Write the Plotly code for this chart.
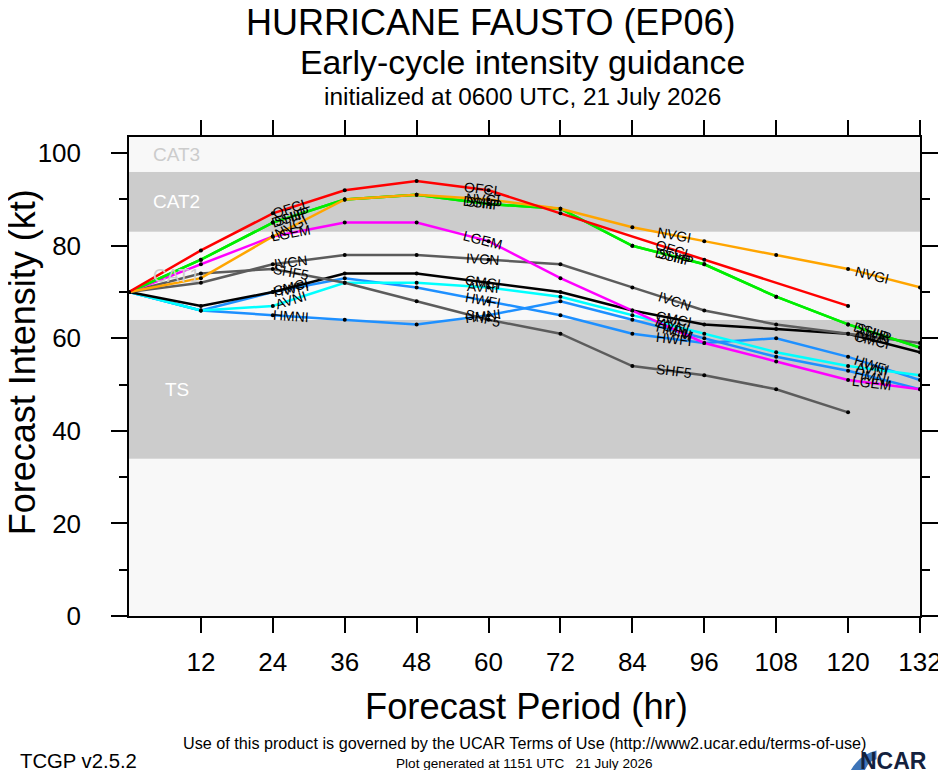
import math
import plotly.graph_objects as go

# forecast hours and model guidance (kt)
hours = [0, 12, 24, 36, 48, 60, 72, 84, 96, 108, 120, 132]
ofcl_hours = [0, 12, 24, 36, 48, 60, 72, 96, 120]
shf5_hours = [0, 12, 24, 36, 48, 60, 72, 84, 96, 108, 120]

ofcl = [70, 79, 87, 92, 94, 92, 87, 77, 67]
nvgi = [70, 73, 82, 90, 91, 90, 88, 84, 81, 78, 75, 71]
ship = [70, 77, 85, 90, 91, 89, 88, 80, 76, 69, 63, 58]
dshp = [70, 77, 85, 90, 91, 89, 88, 80, 76, 69, 63, 58]
lgem = [70, 76, 82, 85, 85, 81, 73, 66, 59, 55, 51, 49]
ivcn = [70, 72, 76, 78, 78, 77, 76, 71, 66, 63, 61, 59]
shf5 = [70, 74, 75, 72, 68, 64, 61, 54, 52, 49, 44]
cmci = [70, 67, 70, 74, 74, 72, 70, 66, 63, 62, 61, 57]
avni = [70, 66, 67, 72, 72, 71, 69, 65, 61, 57, 54, 52]
hwfi = [70, 66, 70, 73, 71, 68, 65, 61, 59, 60, 56, 51]
hmni = [70, 66, 65, 64, 63, 65, 68, 64, 60, 56, 53, 49]

# intensity category bands (kt)
band_edges = [0, 34, 64, 83, 96, 113]
band_names = ["", "TS", "CAT1", "CAT2", "CAT3"]

x_ticks = [12, 24, 36, 48, 60, 72, 84, 96, 108, 120, 132]
label_hours = [27, 59, 91, 124]

W, H = 946, 762
M = dict(l=120.5, r=23.3, t=129, b=154)
X_MAX, Y_MAX = 132, 103.5
FONT = "Liberation Sans, Arial, Helvetica, sans-serif"

# pixel scales, used only to tilt the line labels along their segments
px_hr = (W - M["l"] - M["r"]) / X_MAX
px_kt = (H - M["t"] - M["b"]) / Y_MAX

series = [
    ("HMNI", hours, hmni, "#1e90ff"),
    ("HWFI", hours, hwfi, "#1e90ff"),
    ("AVNI", hours, avni, "#00ffff"),
    ("CMCI", hours, cmci, "#000000"),
    ("SHF5", shf5_hours, shf5, "#5c5c5c"),
    ("IVCN", hours, ivcn, "#5c5c5c"),
    ("LGEM", hours, lgem, "#ff00ff"),
    ("DSHP", hours, dshp, "#00ee00"),
    ("SHIP", hours, ship, "#00ee00"),
    ("NVGI", hours, nvgi, "#ffa500"),
    ("OFCL", ofcl_hours, ofcl, "#ff0000"),
]

fig = go.Figure()

# background bands
for i, name in enumerate(band_names):
    lo, hi = band_edges[i], band_edges[i + 1]
    dark = i % 2 == 1
    fig.add_shape(type="rect", xref="x domain", yref="y", x0=0, x1=1, y0=lo, y1=hi,
                  fillcolor="#cccccc" if dark else "#f8f8f8", line_width=0, layer="below")
    if name:
        fig.add_annotation(x=8, y=(lo + min(hi, Y_MAX)) / 2, text=name, showarrow=False,
                           font=dict(family=FONT, size=19, color="#ffffff" if dark else "#cccccc"))

for name, xs, ys, color in series:
    fig.add_trace(go.Scatter(x=xs, y=ys, mode="lines+markers", name=name,
                             line=dict(color=color, width=2.5),
                             marker=dict(color="black", size=4), showlegend=False))
    # labels along the line
    for h in label_hours:
        if h >= xs[-1]:
            continue
        j = max(k for k in range(len(xs)) if xs[k] <= h)
        slope = (ys[j + 1] - ys[j]) / (xs[j + 1] - xs[j])
        yv = ys[j] + slope * (h - xs[j])
        ang = -math.degrees(math.atan2(slope * px_kt, px_hr))
        fig.add_annotation(x=h, y=yv, text=name, showarrow=False, textangle=ang,
                           font=dict(family=FONT, size=14, color="black"))


def page_text(txt, x, y, size, angle=0, xanchor="center", color="black", family=FONT):
    fig.add_annotation(xref="paper", yref="paper", x=x, y=y, text=txt, showarrow=False,
                       xanchor=xanchor, yanchor="middle", textangle=angle,
                       font=dict(family=family, size=size, color=color))


page_text("HURRICANE FAUSTO (EP06)", 0.4576, 1.238, 36)
page_text("Early-cycle intensity guidance", 0.498, 1.157, 33.8)
page_text("initialized at 0600 UTC, 21 July 2026", 0.497, 1.084, 24.4)

page_text("Forecast Period (hr)", 0.503, -0.188, 36.3)
page_text("Forecast Intensity (kt)", -0.135, 0.530, 36, angle=-90)

page_text("Use of this product is governed by the UCAR Terms of Use (http://www2.ucar.edu/terms-of-use)",
          0.4995, -0.265, 16.2)
page_text("TCGP v2.5.2", -0.140, -0.302, 20.3, xanchor="left")
page_text("Plot generated at 1151 UTC   21 July 2026", 0.4995, -0.308, 13.6)
page_text("<b>NCAR</b>", 1.012, -0.302, 23, xanchor="right", color="#14213d")
fig.add_shape(type="path", xref="paper", yref="paper", line_width=0, fillcolor="#3d74b8",
              path="M 0.908,-0.337 Q 0.920,-0.290 0.945,-0.281 L 0.945,-0.299 Q 0.931,-0.304 0.928,-0.337 Z")

fig.update_layout(
    width=W, height=H, margin=M,
    paper_bgcolor="white", plot_bgcolor="white",
    xaxis=dict(range=[0, X_MAX], tickvals=x_ticks, showgrid=False, zeroline=False,
               showline=True, linecolor="black", linewidth=1.5, mirror="ticks",
               ticks="outside", ticklen=15, tickwidth=1.5, tickcolor="black",
               ticklabelstandoff=7,
               tickfont=dict(family=FONT, size=26, color="black")),
    yaxis=dict(range=[0, Y_MAX], tickvals=[0, 20, 40, 60, 80, 100], showgrid=False,
               zeroline=False, showline=True, linecolor="black", linewidth=1.5,
               mirror="ticks", ticks="outside", ticklen=16, tickwidth=1.5, tickcolor="black",
               ticklabelstandoff=25,
               minor=dict(tickvals=[10, 30, 50, 70, 90], ticks="outside", ticklen=8,
                          tickwidth=1.5, tickcolor="black", showgrid=False),
               tickfont=dict(family=FONT, size=26, color="black")),
)

fig.write_html("out.html")
